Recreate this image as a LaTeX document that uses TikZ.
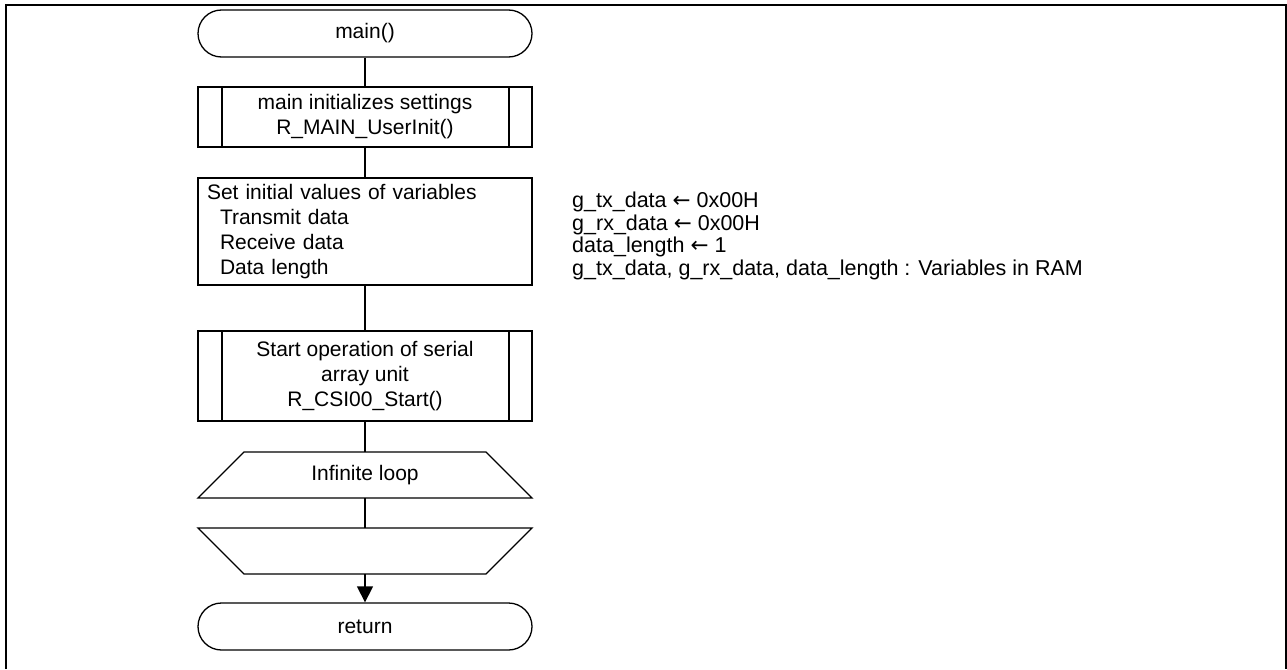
\documentclass[tikz,border=0pt]{standalone}
\usepackage{fontspec}
\setmainfont{Liberation Sans}
\newfontfamily\arrfont{DejaVu Sans}
\usetikzlibrary{arrows.meta}
\newcommand{\larr}{{\arrfont ←}}
\begin{document}
\begin{tikzpicture}[x=1pt,y=-1pt,
  every node/.style={font=\fontsize{21}{25}\selectfont},
  shp/.style={draw, line width=1.3pt, minimum width=334pt, inner sep=0pt},
  term/.style={shp, minimum height=47pt, rounded corners=23.5pt},
  predef/.style={shp, minimum height=#1, align=center,
    path picture={\draw[line width=1.3pt]
      ([xshift=24pt]path picture bounding box.north west) -- ([xshift=24pt]path picture bounding box.south west)
      ([xshift=-23pt]path picture bounding box.north east) -- ([xshift=-23pt]path picture bounding box.south east);}},
  procbox/.style={shp, minimum height=#1, align=left, inner xsep=9pt, text width=316pt},
  loopbox/.style={minimum width=334pt, minimum height=46pt, inner sep=0pt, outer sep=0pt},
  conn/.style={line width=1.3pt},
  outline/.style={line width=1.3pt, line join=miter},
  frame/.style={line width=2pt}
]
\useasboundingbox (0,0) rectangle (1287,669);
\draw[frame] (6,669) -- (6,5) -- (1286,5) -- (1286,669);

\node[term] (start) at (365,33.5) {main()};
\node[predef=60pt] (init) at (365,117) {main initializes settings\\R\_MAIN\_UserInit()};
\node[procbox=107pt] (vars) at (365,231.5) {Set initial values of variables\\\hspace*{13pt}Transmit data\\\hspace*{13pt}Receive data\\\hspace*{13pt}Data length};
\node[predef=90pt] (csi) at (365,376) {Start operation of serial\\array unit\\R\_CSI00\_Start()};
\node[loopbox] (ls) at (365,475) {Infinite loop};
\draw[outline] ([xshift=46pt]ls.north west) -- ([xshift=-46pt]ls.north east) -- (ls.south east) -- (ls.south west) -- cycle;
\node[loopbox] (le) at (365,551) {};
\draw[outline] (le.north west) -- (le.north east) -- ([xshift=-46pt]le.south east) -- ([xshift=46pt]le.south west) -- cycle;
\node[term] (ret) at (365,626.5) {return};

\node[anchor=north west, inner sep=0pt, align=left, font=\fontsize{21.5}{22.5}\selectfont] (note) at (572,192)
  {g\_tx\_data \larr{} 0x00H\\g\_rx\_data \larr{} 0x00H\\data\_length \larr{} 1\\g\_tx\_data, g\_rx\_data, data\_length : Variables in RAM};

\draw[conn] (start) -- (init);
\draw[conn] (init) -- (vars);
\draw[conn] (vars) -- (csi);
\draw[conn] (csi) -- (ls);
\draw[conn] (ls) -- (le);
\draw[conn, -{Triangle[length=16pt,width=16pt]}] (le) -- (ret);
\end{tikzpicture}
\end{document}
